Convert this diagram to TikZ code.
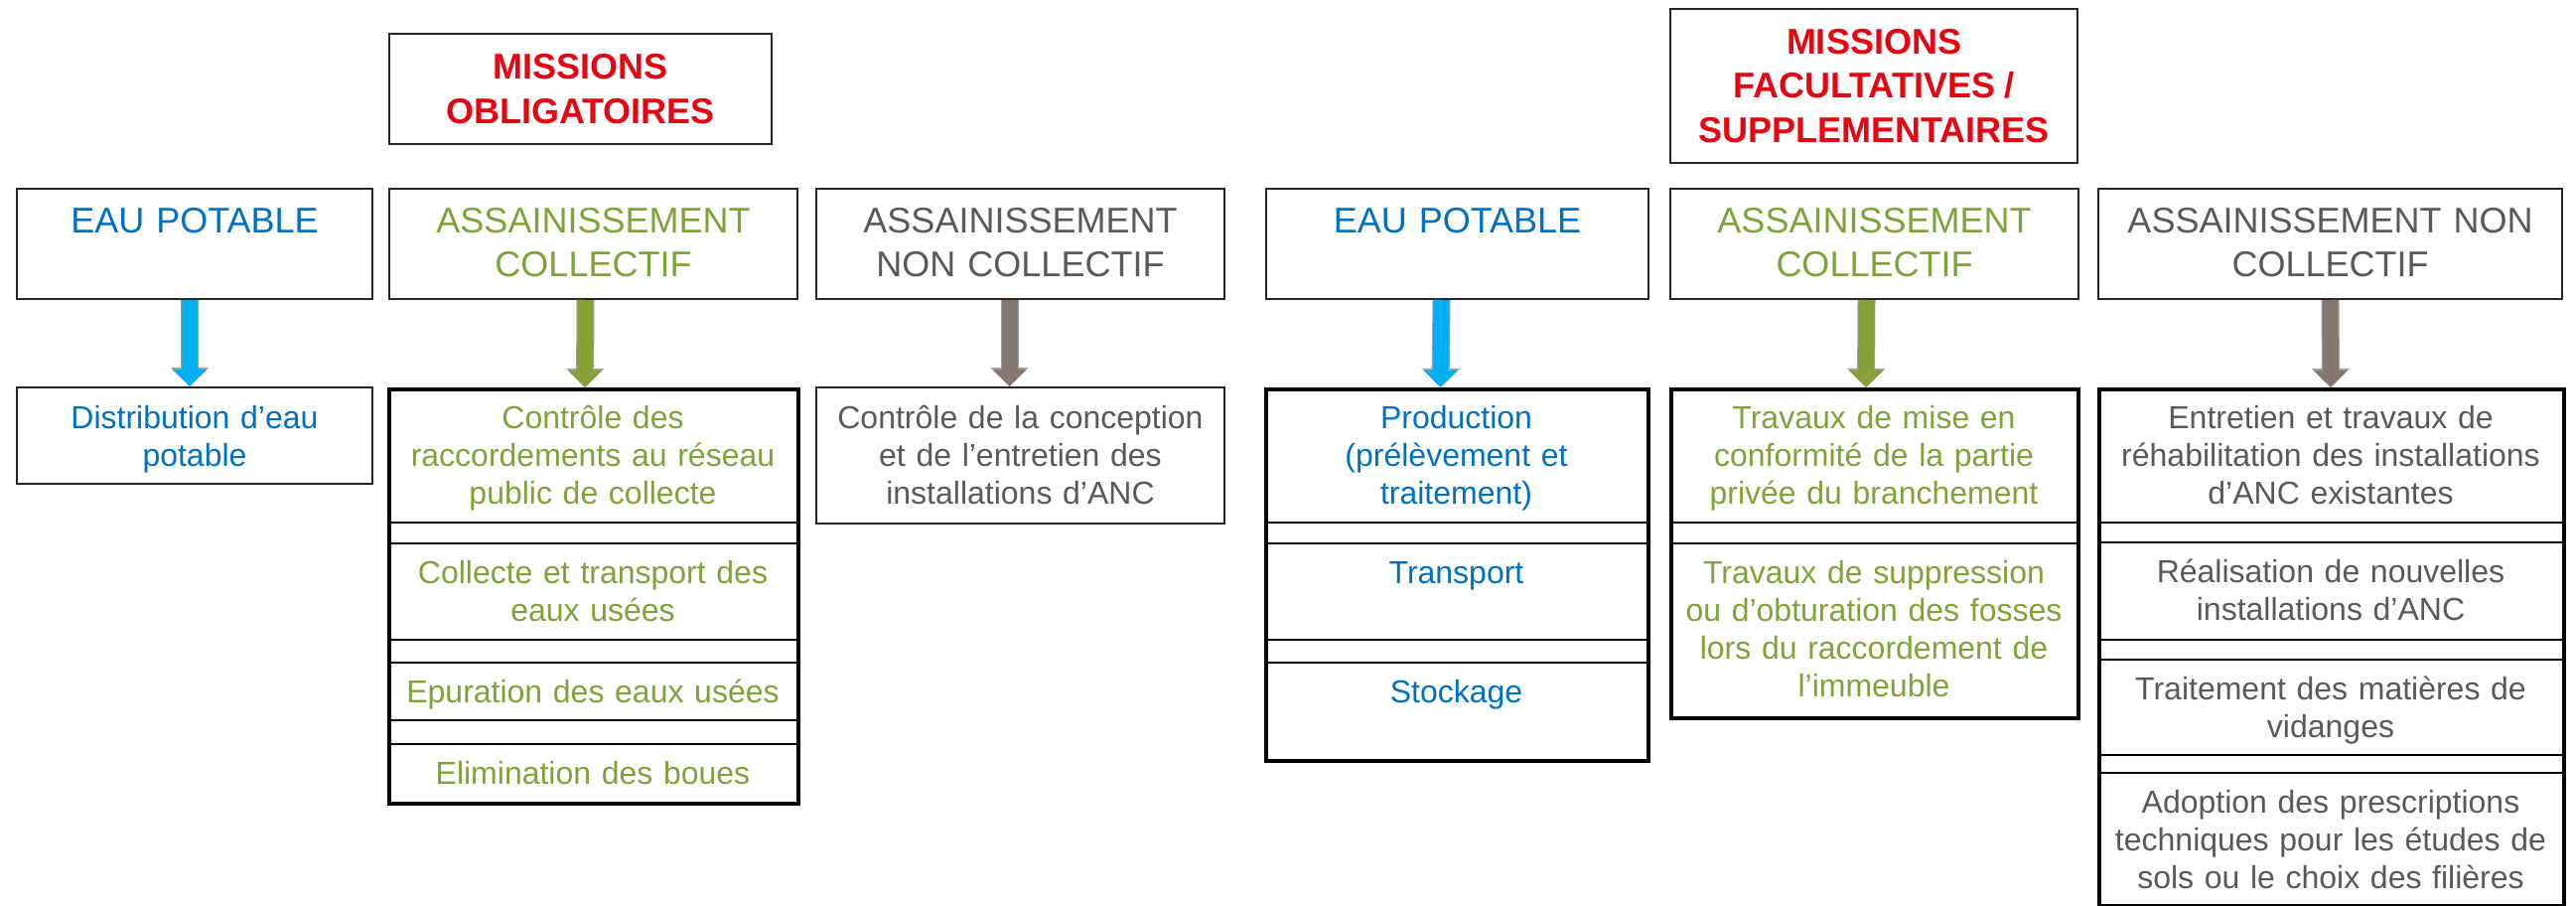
\documentclass[tikz,border=0pt]{standalone}
\usepackage{fontspec}
\setmainfont{Liberation Sans}
\usetikzlibrary{arrows.meta,positioning}

\definecolor{bleuep}{HTML}{0070C0}
\definecolor{vertac}{HTML}{7FA23A}
\definecolor{grisanc}{HTML}{595959}
\definecolor{rougem}{HTML}{E30613}
\definecolor{cyanfl}{HTML}{00B0F0}
\definecolor{vertfl}{HTML}{88A038}
\definecolor{brunfl}{HTML}{857870}

\tikzset{
  cadre/.style={draw=black!85, line width=2pt, anchor=north west, inner sep=0pt},
  rang/.style={draw=black, line width=2pt, anchor=north west, inner sep=0pt},
  pile/.style={draw=black, line width=4pt, anchor=north west, inner sep=0pt},
  mission/.style={font=\fontsize{36}{44.7}\selectfont\bfseries, text=rougem, align=center},
  titre/.style={font=\fontsize{36}{44.7}\selectfont, align=center, anchor=base, inner sep=0pt},
  corps/.style={font=\fontsize{32}{38}\selectfont, align=center, anchor=base, inner sep=0pt},
  fleche/.style={line width=16pt, draw=#1, -{Triangle[width=33pt,length=17pt,fill=#1]},
    preaction={draw=gray!75, line width=18pt, -{Triangle[width=37pt,length=19pt]}}}
}

\begin{document}
\begin{tikzpicture}[x=1pt, y=-1pt]
\useasboundingbox (0,0) rectangle (2594,911);

% les deux cadres de missions
\node[cadre, mission, minimum width=385pt, minimum height=111pt] (mo) at (391,33) {MISSIONS\\OBLIGATOIRES};
\node[cadre, mission, minimum width=410pt, minimum height=155pt] (mf) at (1681,8) {MISSIONS\\FACULTATIVES /\\SUPPLEMENTAIRES};

% en-tetes
\foreach \nm/\x/\w/\col/\txt in {ep1/16/358/bleuep/EAU POTABLE,
    ac1/391/411/vertac/ASSAINISSEMENT\\COLLECTIF,
    anc1/821/411/grisanc/ASSAINISSEMENT\\NON COLLECTIF,
    ep2/1274/385/bleuep/EAU POTABLE,
    ac2/1681/411/vertac/ASSAINISSEMENT\\COLLECTIF,
    anc2/2112/467/grisanc/ASSAINISSEMENT NON\\COLLECTIF}{
  \node[cadre, minimum width=\w pt, minimum height=111pt] (\nm) at (\x,189) {};
  \node[titre, text=\col, text width=\w pt] (\nm-t) at ([yshift=-45pt]\nm.north) {\txt};
}

% cases simples
\node[cadre, minimum width=358pt, minimum height=97pt] (dist) at (16,389) {};
\node[corps, text=bleuep, text width=358pt] (dist-t) at ([yshift=-42pt]dist.north) {Distribution d’eau\\potable};
\node[cadre, minimum width=411pt, minimum height=137pt] (anc1r1) at (821,389) {};
\node[corps, text=grisanc, text width=411pt] (anc1r1-t) at ([yshift=-42pt]anc1r1.north) {Contrôle de la conception\\et de l’entretien des\\installations d’ANC};

% piles de missions
\foreach \nm/\x/\w/\ya/\yb/\col/\txt in {
    ac1r1/390/412/390/525/vertac/Contrôle des\\raccordements au réseau\\public de collecte,
    ac1r2/390/412/546/643/vertac/Collecte et transport des\\eaux usées,
    ac1r3/390/412/666/724/vertac/Epuration des eaux usées,
    ac1r4/390/412/748/807/vertac/Elimination des boues,
    ep2r1/1273/385/390/525/bleuep/Production\\(prélèvement et\\traitement),
    ep2r2/1273/385/546/643/bleuep/Transport,
    ep2r3/1273/385/666/764/bleuep/Stockage,
    ac2r1/1681/410/390/525/vertac/Travaux de mise en\\conformité de la partie\\privée du branchement,
    ac2r2/1681/410/546/721/vertac/Travaux de suppression\\ou d’obturation des fosses\\lors du raccordement de\\l’immeuble,
    anc2r1/2112/468/390/525/grisanc/Entretien et travaux de\\réhabilitation des installations\\d’ANC existantes,
    anc2r2/2112/468/545/643/grisanc/Réalisation de nouvelles\\installations d’ANC,
    anc2r3/2112/468/663/759/grisanc/Traitement des matières de\\vidanges,
    anc2r4/2112/468/777/910/grisanc/Adoption des prescriptions\\techniques pour les études de\\sols ou le choix des filières}{
  \node[rang, minimum width=\w pt, minimum height={(\yb-\ya)*1pt}] (\nm) at (\x,\ya) {};
  \node[corps, text=\col, text width=\w pt] (\nm-t) at ([yshift=-41pt]\nm.north) {\txt};
}
\foreach \nm/\x/\w/\h in {ac1p/390/412/417, ep2p/1273/385/374, ac2p/1681/410/331, anc2p/2112/468/540}
  \node[pile, minimum width=\w pt, minimum height=\h pt] (\nm) at (\x,390) {};

% fleches
\foreach \a/\b/\c/\dx in {ep1/dist/cyanfl/-5, ac1/ac1r1/vertfl/-8, anc1/anc1r1/brunfl/-11,
    ep2/ep2r1/cyanfl/-16, ac2/ac2r1/vertfl/-8, anc2/anc2r1/brunfl/0}
  \draw[fleche=\c] ([xshift=\dx pt]\a.south) -- ([xshift=\dx pt]\b.north);
\end{tikzpicture}
\end{document}
